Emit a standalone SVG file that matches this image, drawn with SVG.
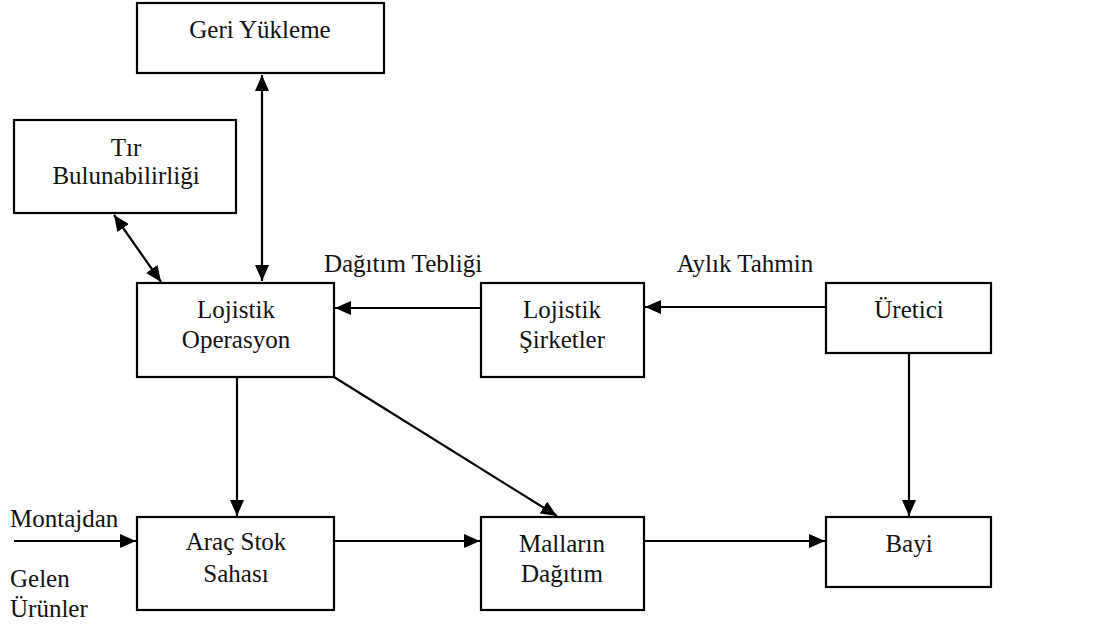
<svg xmlns="http://www.w3.org/2000/svg" width="1102" height="626" viewBox="0 0 1102 626">
<style>
.box{fill:#fff;stroke:#000;stroke-width:2.2}
.t{font-size:25px;fill:#111;text-anchor:middle}
.l{text-anchor:start}
.c{stroke:#000;stroke-width:2.2;fill:none}
</style>
<defs>
<marker id="ah" viewBox="0 0 16 14" refX="16" refY="7" markerWidth="16" markerHeight="14" markerUnits="userSpaceOnUse" orient="auto-start-reverse">
<path d="M0,0 L16,7 L0,14 Z" fill="#000"/>
</marker>
</defs>
<rect width="1102" height="626" fill="#fff"/>
<g font-family="Liberation Serif, Times New Roman, DejaVu Serif, serif">
<g id="connectors">
<line class="c" x1="262" y1="75" x2="262" y2="281" marker-start="url(#ah)" marker-end="url(#ah)"/>
<line class="c" x1="114" y1="215" x2="161" y2="282" marker-start="url(#ah)" marker-end="url(#ah)"/>
<line class="c" x1="481" y1="308" x2="335" y2="308" marker-end="url(#ah)"/>
<line class="c" x1="826" y1="307" x2="645" y2="307" marker-end="url(#ah)"/>
<line class="c" x1="237" y1="377" x2="237" y2="516" marker-end="url(#ah)"/>
<line class="c" x1="334" y1="377" x2="557" y2="516" marker-end="url(#ah)"/>
<line class="c" x1="909" y1="353" x2="909" y2="516" marker-end="url(#ah)"/>
<line class="c" x1="14" y1="541" x2="136" y2="541" marker-end="url(#ah)"/>
<line class="c" x1="334" y1="541" x2="480" y2="541" marker-end="url(#ah)"/>
<line class="c" x1="644" y1="541" x2="825" y2="541" marker-end="url(#ah)"/>
<text class="t" x="403" y="272">Dağıtım Tebliği</text>
<text class="t" x="745" y="272">Aylık Tahmin</text>
<text class="t l" x="10" y="527">Montajdan</text>
<text class="t l" x="10" y="587">Gelen</text>
<text class="t l" x="10" y="617">Ürünler</text>
</g>
<g id="geri-yukleme">
<rect class="box" x="137" y="3" width="247" height="70"/>
<text class="t" x="260" y="38">Geri Yükleme</text>
</g>
<g id="tir-bulunabilirligi">
<rect class="box" x="14" y="120" width="222" height="93"/>
<text class="t" x="126" y="156">Tır</text>
<text class="t" x="126" y="184">Bulunabilirliği</text>
</g>
<g id="lojistik-operasyon">
<rect class="box" x="137" y="283" width="197" height="94"/>
<text class="t" x="236" y="318">Lojistik</text>
<text class="t" x="236" y="348">Operasyon</text>
</g>
<g id="lojistik-sirketler">
<rect class="box" x="481" y="283" width="163" height="94"/>
<text class="t" x="562" y="318">Lojistik</text>
<text class="t" x="562" y="348">Şirketler</text>
</g>
<g id="uretici">
<rect class="box" x="826" y="283" width="165" height="70"/>
<text class="t" x="909" y="318">Üretici</text>
</g>
<g id="arac-stok-sahasi">
<rect class="box" x="137" y="517" width="197" height="93"/>
<text class="t" x="236" y="550">Araç Stok</text>
<text class="t" x="236" y="582">Sahası</text>
</g>
<g id="mallarin-dagitim">
<rect class="box" x="481" y="517" width="163" height="93"/>
<text class="t" x="562" y="552">Malların</text>
<text class="t" x="562" y="582">Dağıtım</text>
</g>
<g id="bayi">
<rect class="box" x="826" y="517" width="165" height="70"/>
<text class="t" x="909" y="552">Bayi</text>
</g>
</g>
</svg>
